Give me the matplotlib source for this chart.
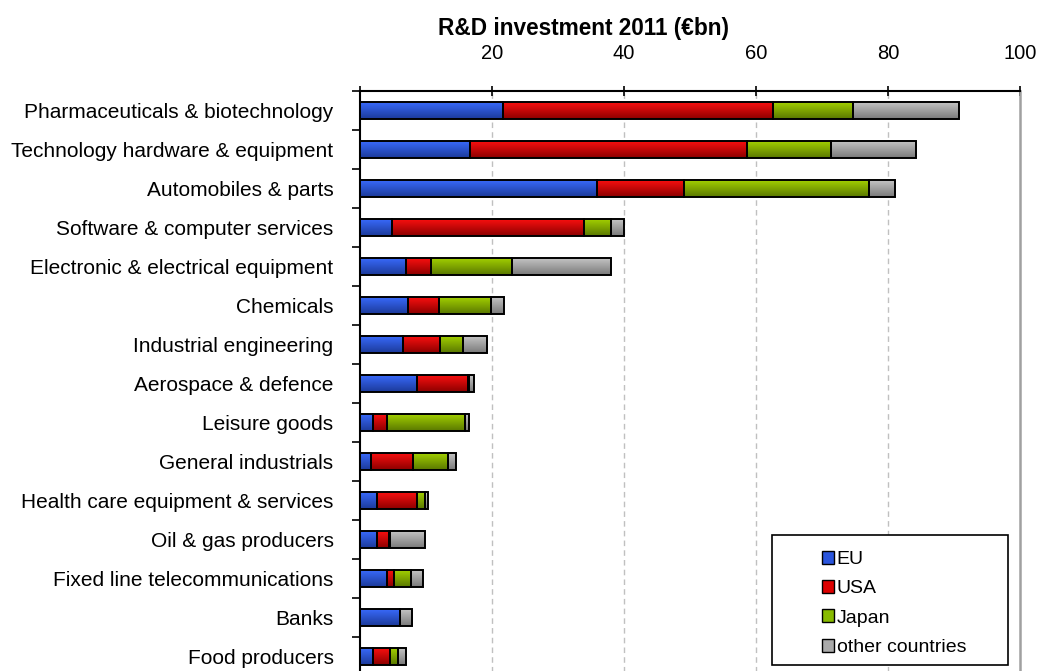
import numpy as np
import matplotlib
matplotlib.use("Agg")
import matplotlib.pyplot as plt
from matplotlib.colors import LinearSegmentedColormap
from matplotlib.patches import Rectangle

plt.rcParams['font.family'] = ['Liberation Sans', 'DejaVu Sans']

categories = [
    "Pharmaceuticals & biotechnology",
    "Technology hardware & equipment",
    "Automobiles & parts",
    "Software & computer services",
    "Electronic & electrical equipment",
    "Chemicals",
    "Industrial engineering",
    "Aerospace & defence",
    "Leisure goods",
    "General industrials",
    "Health care equipment & services",
    "Oil & gas producers",
    "Fixed line telecommunications",
    "Banks",
    "Food producers",
]
eu    = [21.7, 16.7, 35.9, 4.9, 7.0, 7.3, 6.5, 8.7, 1.9, 1.7, 2.5, 2.5, 4.1, 6.0, 1.9]
usa   = [40.9, 42.0, 13.2, 29.1, 3.8, 4.6, 5.6, 7.7, 2.2, 6.4, 6.1, 1.9, 1.0, 0.0, 2.7]
japan = [12.1, 12.6, 28.0, 4.1, 12.3, 8.0, 3.5, 0.1, 11.8, 5.3, 1.3, 0.2, 2.7, 0.0, 1.1]
other = [16.0, 13.0, 4.0, 1.9, 15.0, 1.9, 3.7, 0.7, 0.6, 1.2, 0.4, 5.2, 1.7, 1.9, 1.3]
series_names = ["EU", "USA", "Japan", "other countries"]
xticks = [20, 40, 60, 80, 100]

series = [eu, usa, japan, other]
grads = [("#3a6cff", "#1c3a9a"), ("#ff1010", "#8c0000"),
         ("#a6d400", "#5a7800"), ("#c8c8c8", "#7a7a7a")]
solid = ["#2a55dd", "#dd0000", "#88bb00", "#aaaaaa"]

fig = plt.figure(figsize=(10.37, 6.71), dpi=100)
W, H = 1037, 671
ax = fig.add_axes([360 / W, (H - 676) / H, 660 / W, 585 / H])

ys = np.arange(len(categories))
bh = 0.45
left = np.zeros(len(categories))
gvals = np.linspace(0, 1, 64).reshape(-1, 1)
for vals, (c_top, c_bot) in zip(series, grads):
    vals = np.array(vals)
    bars = ax.barh(ys, vals, left=left, height=bh, facecolor='none',
                   edgecolor='black', linewidth=1.4, zorder=4)
    cmap = LinearSegmentedColormap.from_list('g', [c_top, c_bot])
    for rect in bars.patches:
        x0, y0 = rect.get_x(), rect.get_y()
        w, h = rect.get_width(), rect.get_height()
        if w <= 0:
            continue
        im = ax.imshow(gvals, cmap=cmap, aspect='auto', interpolation='bilinear',
                       extent=[x0, x0 + w, y0 + h, y0], zorder=3)
        im.set_clip_path(rect)
    left = left + vals

ax.set_xlim(0, 100)
ax.set_ylim(len(categories) - 0.5, -0.5)

ax.xaxis.tick_top()
ax.set_xticks([0] + xticks)
ax.set_xticklabels([""] + [str(t) for t in xticks], fontsize=14.5)
ax.tick_params(axis='x', direction='inout', length=7, width=1.2, pad=17)
for t in xticks[:-1]:
    ax.axvline(t, color='#c0c0c0', linestyle=(0, (4, 3)), linewidth=1.0, zorder=1)

ax.set_yticks(ys)
ax.set_yticklabels(categories, fontsize=15)
ax.set_yticks(np.arange(len(categories) + 1) - 0.5, minor=True)
ax.tick_params(axis='y', which='major', length=0, pad=19)
ax.tick_params(axis='y', which='minor', direction='out', length=6, width=1.2)

ax.spines['top'].set_linewidth(1.5)
ax.spines['left'].set_linewidth(1.5)
ax.spines['bottom'].set_visible(False)
ax.spines['right'].set_color('#a0a0a0')
ax.spines['right'].set_linewidth(1.8)

fig.text(584 / W, 1 - 28 / H, "R&D investment 2011 (\u20acbn)", ha='center',
         va='center', fontsize=16.3, fontweight='bold')

# legend box
fig.patches.append(Rectangle((772 / W, 1 - 665 / H), 236 / W, 130 / H,
                             transform=fig.transFigure, facecolor='white',
                             edgecolor='black', linewidth=1.2, zorder=5))
handles = [Rectangle((0, 0), 1, 1, facecolor=c, edgecolor='black', linewidth=1.0)
           for c in solid]
leg = fig.legend(handles, series_names, loc='upper left',
                 bbox_to_anchor=(808 / W, 1 - 537 / H), frameon=False,
                 fontsize=14, handlelength=0.65, handleheight=0.65,
                 handletextpad=0.12, labelspacing=0.62, borderpad=0.2)
leg.set_zorder(6)

fig.savefig("out.png", dpi=100)
